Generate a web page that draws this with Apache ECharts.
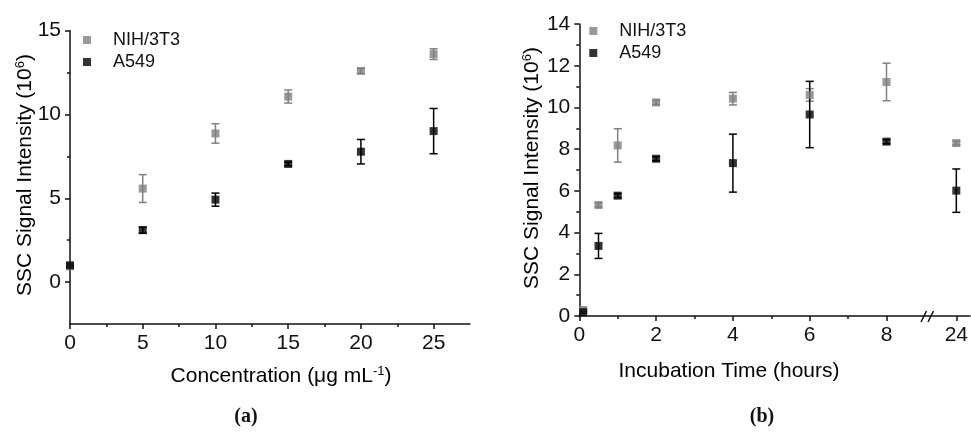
<!DOCTYPE html>
<html>
<head>
<meta charset="utf-8">
<script src="https://cdn.jsdelivr.net/npm/echarts@6/dist/echarts.min.js"></script>
<style>
html,body{margin:0;padding:0;background:#fff;}
#c{width:971px;height:434px;}
</style>
</head>
<body>
<div id="c"></div>
<script>
// ---- Panel (a): concentration series ----
const A_CONC = [0, 5, 10, 15, 20, 25];
const A_NIH = [0.95, 5.58, 8.87, 11.07, 12.6, 13.6];
const A_NIH_SD = [0, 0.83, 0.58, 0.39, 0.15, 0.32];
const A_A549 = [1.0, 3.1, 4.92, 7.05, 7.78, 9.01];
const A_A549_SD = [0.05, 0.18, 0.39, 0.1, 0.73, 1.35];
const A_X_TICKS = [0, 5, 10, 15, 20, 25];
const A_X_MINOR = [2.5, 7.5, 12.5, 17.5, 22.5];
const A_Y_TICKS = [0, 5, 10, 15];
const A_Y_MINOR = [2.5, 7.5, 12.5];

// ---- Panel (b): incubation time series ----
const B_TIME = [0.1, 0.5, 1, 2, 4, 6, 8, 24];
const B_NIH = [0.29, 5.32, 8.18, 10.24, 10.42, 10.6, 11.22, 8.29];
const B_NIH_SD = [0.08, 0.1, 0.8, 0.1, 0.3, 0.3, 0.9, 0.1];
const B_A549 = [0.18, 3.36, 5.77, 7.54, 7.33, 9.66, 8.36, 6.01];
const B_A549_SD = [0.05, 0.6, 0.1, 0.1, 1.39, 1.59, 0.1, 1.04];
const B_X_TICKS = [0, 2, 4, 6, 8];
const B_X_MINOR = [1, 3, 5, 7];
const B_X_BREAK_TICKS = [24];
const B_Y_TICKS = [0, 2, 4, 6, 8, 10, 12, 14];
const B_Y_MINOR = [1, 3, 5, 7, 9, 11, 13];

const SERIES_NAMES = ['NIH/3T3', 'A549'];
const GRAY = '#808080', BLACK = '#000000', INK = '#111111';
const FONT = '"Liberation Sans", Arial, sans-serif';

const pts = (xs, ys, keep) => xs.map((x, i) => [x, ys[i]]).filter(p => keep(p[0]));
const errs = (xs, ys, sd, keep) => xs.map((x, i) => [x, ys[i] - sd[i], ys[i] + sd[i]]).filter(p => keep(p[0]));
const all = () => true, early = x => x <= 9, late = x => x > 9;

function errItem(params, api) {
  const x = api.value(0), lo = api.value(1), hi = api.value(2);
  const p1 = api.coord([x, hi]), p2 = api.coord([x, lo]);
  const w = 4, c = api.visual('color');
  const st = {stroke: c, lineWidth: 1.5};
  return {type: 'group', children: [
    {type: 'line', shape: {x1: p1[0], y1: p1[1], x2: p2[0], y2: p2[1]}, style: st},
    {type: 'line', shape: {x1: p1[0] - w, y1: p1[1], x2: p1[0] + w, y2: p1[1]}, style: st},
    {type: 'line', shape: {x1: p2[0] - w, y1: p2[1], x2: p2[0] + w, y2: p2[1]}, style: st}
  ]};
}

const axisLineStyle = {show: true, onZero: false, lineStyle: {color: INK, width: 1.5}};
const labelStyle = {color: INK, fontSize: 21, fontFamily: FONT};

function majorAxis(gridIndex, pos, min, max, ticks) {
  return {
    type: 'value', gridIndex, position: pos, min, max,
    axisLine: axisLineStyle,
    axisTick: {show: true, customValues: ticks, length: 5, lineStyle: {color: INK, width: 1.5}},
    axisLabel: Object.assign({show: true, customValues: ticks, margin: 9}, labelStyle),
    splitLine: {show: false}
  };
}
function minorAxis(gridIndex, pos, min, max, ticks) {
  return {
    type: 'value', gridIndex, position: pos, min, max,
    axisLine: {show: false, onZero: false},
    axisTick: {show: true, customValues: ticks, length: 3, lineStyle: {color: INK, width: 1.5}},
    axisLabel: {show: false},
    splitLine: {show: false}
  };
}

function scatter(name, data, color, xi, yi) {
  return {type: 'scatter', name, data, xAxisIndex: xi, yAxisIndex: yi,
    symbol: 'rect', symbolSize: 8, itemStyle: {color}, z: 3};
}
function errSeries(name, data, color, xi, yi) {
  return {type: 'custom', name: name + ' error', data, xAxisIndex: xi, yAxisIndex: yi,
    renderItem: errItem, itemStyle: {color}, encode: {x: 0, y: [1, 2]}, z: 2};
}

function legendAt(left, top) {
  return {
    data: SERIES_NAMES, orient: 'vertical', left, top, padding: 0,
    itemWidth: 8, itemHeight: 8, itemGap: 0, icon: 'rect',
    textStyle: {fontSize: 18, lineHeight: 22, color: INK, fontFamily: FONT, padding: [0, 0, 0, 17]}
  };
}

const supRich = {
  a: {fontSize: 21, fontFamily: FONT, color: INK, lineHeight: 23},
  s: {fontSize: 13, fontFamily: FONT, color: INK, lineHeight: 13, verticalAlign: 'top'}
};
function nameText(text, x, y, rot) {
  return {type: 'text', x, y, rotation: rot || 0, z: 10,
    style: {text, rich: supRich, align: 'center', verticalAlign: 'middle'}};
}

const chart = echarts.init(document.getElementById('c'), null, {renderer: 'canvas'});
chart.setOption({
  backgroundColor: '#fff',
  animation: false,
  grid: [
    {left: 70, top: 30.7, width: 400, height: 293.3},
    {left: 579.3, top: 24, width: 345.6, height: 292},
    {left: 925, top: 24, width: 46, height: 292}
  ],
  xAxis: [
    majorAxis(0, 'bottom', 0, 27.5, A_X_TICKS),
    minorAxis(0, 'bottom', 0, 27.5, A_X_MINOR),
    majorAxis(1, 'bottom', 0, 9, B_X_TICKS),
    minorAxis(1, 'bottom', 0, 9, B_X_MINOR),
    majorAxis(2, 'bottom', 23.2, 24.35, B_X_BREAK_TICKS)
  ],
  yAxis: [
    majorAxis(0, 'left', -2.5, 15, A_Y_TICKS),
    minorAxis(0, 'left', -2.5, 15, A_Y_MINOR),
    majorAxis(1, 'left', 0, 14, B_Y_TICKS),
    minorAxis(1, 'left', 0, 14, B_Y_MINOR),
    {type: 'value', gridIndex: 2, position: 'left', min: 0, max: 14, show: false}
  ],
  legend: [legendAt(83, 29), legendAt(589.3, 20)],
  series: [
    errSeries('NIH/3T3', errs(A_CONC, A_NIH, A_NIH_SD, all), GRAY, 0, 0),
    scatter('NIH/3T3', pts(A_CONC, A_NIH, all), GRAY, 0, 0),
    errSeries('A549', errs(A_CONC, A_A549, A_A549_SD, all), BLACK, 0, 0),
    scatter('A549', pts(A_CONC, A_A549, all), BLACK, 0, 0),

    errSeries('NIH/3T3', errs(B_TIME, B_NIH, B_NIH_SD, early), GRAY, 2, 2),
    scatter('NIH/3T3', pts(B_TIME, B_NIH, early), GRAY, 2, 2),
    errSeries('A549', errs(B_TIME, B_A549, B_A549_SD, early), BLACK, 2, 2),
    scatter('A549', pts(B_TIME, B_A549, early), BLACK, 2, 2),

    errSeries('NIH/3T3', errs(B_TIME, B_NIH, B_NIH_SD, late), GRAY, 4, 4),
    scatter('NIH/3T3', pts(B_TIME, B_NIH, late), GRAY, 4, 4),
    errSeries('A549', errs(B_TIME, B_A549, B_A549_SD, late), BLACK, 4, 4),
    scatter('A549', pts(B_TIME, B_A549, late), BLACK, 4, 4)
  ],
  graphic: [
    nameText('{a|SSC Signal Intensity (10}{s|6}{a|)}', 25, 175, Math.PI / 2),
    nameText('{a|Concentration (μg mL}{s|-1}{a|)}', 281, 376),
    nameText('{a|SSC Signal Intensity (10}{s|6}{a|)}', 532, 168, Math.PI / 2),
    nameText('{a|Incubation Time (hours)}', 729, 371),
    {type: 'text', x: 246, y: 417, style: {text: '(a)', font: 'bold 20px "Liberation Serif", "DejaVu Serif", serif', fill: INK, align: 'center', verticalAlign: 'middle'}},
    {type: 'text', x: 762, y: 417, style: {text: '(b)', font: 'bold 20px "Liberation Serif", "DejaVu Serif", serif', fill: INK, align: 'center', verticalAlign: 'middle'}},
    // axis break marks
    {type: 'line', z: 20, shape: {x1: 921, y1: 322, x2: 926.5, y2: 311}, style: {stroke: INK, lineWidth: 1.5}},
    {type: 'line', z: 20, shape: {x1: 928, y1: 322, x2: 933.5, y2: 311}, style: {stroke: INK, lineWidth: 1.5}}
  ]
});
</script>
</body>
</html>
